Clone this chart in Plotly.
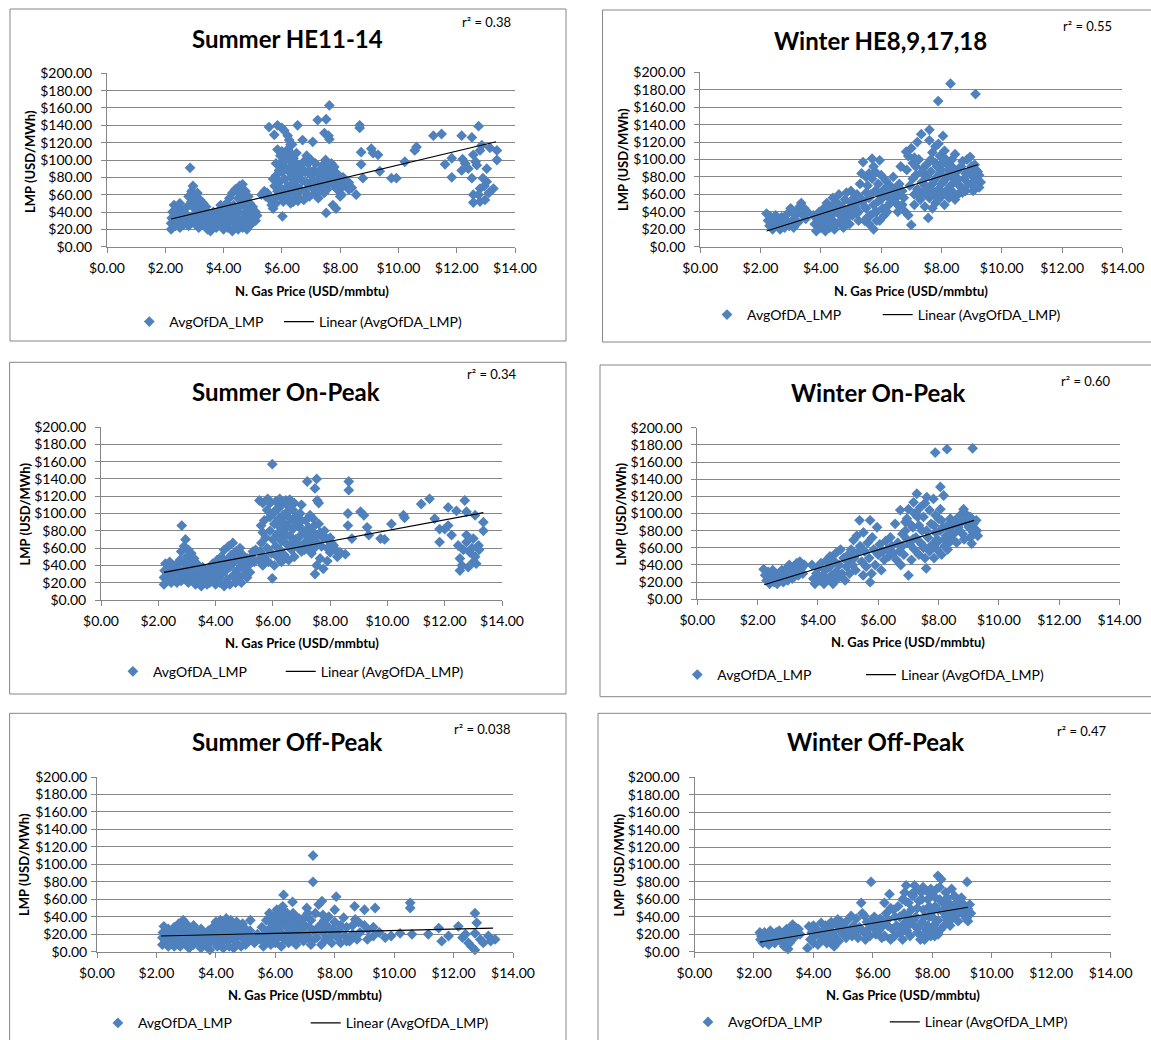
import plotly.graph_objects as go

W, H = 1151, 1040

panel_titles = ["Summer HE11-14", "Winter HE8,9,17,18", "Summer On-Peak",
                "Winter On-Peak", "Summer Off-Peak", "Winter Off-Peak"]
r2_texts = ["r² = 0.38", "r² = 0.55", "r² = 0.34", "r² = 0.60", "r² = 0.038", "r² = 0.47"]
series_name = "AvgOfDA_LMP"
trend_name = "Linear (AvgOfDA_LMP)"
x_title = "N. Gas Price (USD/mmbtu)"
y_title = "LMP (USD/MWh)"
x_tick_vals = [0, 2, 4, 6, 8, 10, 12, 14]
x_tick_text = ["$0.00", "$2.00", "$4.00", "$6.00", "$8.00", "$10.00", "$12.00", "$14.00"]
y_tick_vals = [0, 20, 40, 60, 80, 100, 120, 140, 160, 180, 200]
y_tick_text = ["$0.00", "$20.00", "$40.00", "$60.00", "$80.00", "$100.00", "$120.00",
               "$140.00", "$160.00", "$180.00", "$200.00"]

# trend line end points (x, y)
trend_x = [[2.2, 13.35], [2.2, 9.2], [2.2, 13.35], [2.22, 9.18], [2.15, 13.33], [2.2, 9.2]]
trend_y = [[32, 121], [18, 94], [32, 101], [17, 92], [18, 27], [11, 51]]

summer_he_pts = [
(2.2,20),(2.2,27),(2.22,33),(2.25,40),(2.3,48),(2.35,24),(2.4,30),(2.4,37),(2.45,45),(2.5,50),(2.5,22),(2.55,28),(2.6,35),(2.6,42),(2.65,26),(2.7,32),(2.7,38),(2.75,46),(2.8,58),(2.8,24),(2.85,30),(2.85,91),(2.9,52),(2.9,64),(2.95,70),(2.95,36),(3.0,44),(3.0,58),(3.0,27),(3.05,33),(3.05,50),(3.1,40),(3.1,62),(3.15,22),(3.15,46),(3.2,54),(3.2,30),(3.25,36),(3.3,42),(3.3,50),(3.35,25),(3.4,32),(3.4,46),(3.45,20),(3.5,28),(3.5,38),(3.55,18),(3.6,24),(3.6,34),(3.65,40),(3.7,28),(3.75,22),(3.8,30),(3.8,36),
(3.85,42),(3.9,24),(3.9,48),(3.95,32),(4.0,20),(4.0,38),(4.0,45),(4.05,28),(4.1,50),(4.1,34),(4.15,22),(4.2,42),(4.2,56),(4.25,30),(4.3,18),(4.3,38),(4.3,62),(4.35,48),(4.4,26),(4.4,44),(4.4,66),(4.45,34),(4.5,20),(4.5,56),(4.5,40),(4.55,70),(4.6,30),(4.6,48),(4.6,62),(4.65,22),(4.65,72),(4.7,38),(4.7,54),(4.75,28),(4.75,64),(4.8,44),(4.8,20),(4.85,58),(4.85,34),(4.9,50),(4.9,40),(4.95,26),(5.0,46),(5.0,36),(5.05,32),(5.1,40),(5.1,30),(5.15,36),
(5.3,60),(5.4,64),(5.45,58),(5.5,62),(5.6,54),(5.65,48),(5.7,44),(5.75,56),(5.8,50),
(5.56,138),(5.74,129),(5.85,140),(6.0,137),(6.08,134),(6.2,128),(6.25,123),(6.3,118),(6.54,140),(6.71,123),(7.06,121),(7.23,146),(7.52,147),(7.63,163),(7.46,131),(7.6,128),(7.63,124),
(5.85,112),(5.9,95),(5.95,105),(6.0,110),(6.05,98),(6.1,92),(6.15,105),(6.2,112),(6.25,100),(6.3,108),(6.35,94),(6.4,102),
(5.7,78),(5.75,70),(5.8,82),(5.85,64),(5.9,74),(5.95,58),(6.0,86),(6.0,66),(6.05,52),(6.1,78),(6.15,60),(6.2,70),(6.2,88),(6.25,56),(6.3,80),(6.35,64),(6.4,74),(6.4,52),(6.45,86),(6.5,60),(6.5,70),(6.55,80),(6.6,56),(6.6,92),(6.65,66),(6.7,76),(6.75,98),(6.75,54),(6.8,86),(6.8,64),(6.85,105),(6.9,72),(6.9,96),(6.95,58),(7.0,82),(7.0,100),(7.05,68),(7.1,88),(7.15,62),(7.2,76),(7.25,84),(7.3,70),(7.3,64),(7.35,90),(7.4,78),(7.45,72),(7.5,84),(7.5,100),(7.55,66),(7.6,90),(7.65,80),(7.7,74),(7.75,86),(7.8,70),(7.85,78),(7.9,66),(7.95,74),(8.0,72),(8.05,60),(8.1,70),(8.2,76),(8.3,66),(8.4,68),(8.55,60),(8.0,58),(7.75,48),(7.86,44),(7.52,39),(6.02,35),(6.3,50),(6.55,53),(6.8,56),
(6.1,100),(6.3,88),(6.5,96),(6.7,90),(6.95,88),(7.15,96),(7.4,94),(7.6,74),(7.7,96),(7.9,84),(8.1,80),(8.3,74),(6.45,62),(6.65,84),(6.85,74),(7.05,76),(7.25,56),(7.45,62),(6.1,58),(5.9,88),(5.8,96),(6.35,118),(6.5,108),(7.8,92),
(8.67,140),(8.67,137),(8.72,109),(8.72,95),(8.78,79),(9.07,113),(9.13,108),(9.3,106),(9.36,87),(9.76,79),(9.93,79),(10.22,98),(10.56,111),(10.62,115),(11.2,128),(11.48,130),(11.6,95),(11.83,102),(11.83,80),(12.17,128),(12.52,126),(12.75,139),(12.17,88),(12.29,96),(12.57,106),(12.52,79),(12.57,60),(12.57,51),(12.8,52),(12.97,54),(13.26,67),(13.03,75),(12.8,67),(12.9,79),(12.69,94),(12.8,111),(12.86,117),(13.14,114),(13.38,111),(13.38,100),(13.03,90),(12.75,60),(13.1,62),(12.95,70),(12.2,101),(12.4,90),(12.65,98),
]

winter_he_pts = [
(2.2,38),(2.25,30),(2.3,24),(2.35,34),(2.4,20),(2.45,28),(2.5,36),(2.55,24),(2.6,30),(2.65,20),(2.7,34),(2.75,26),(2.8,22),(2.85,30),(2.9,38),(2.95,24),(3.0,44),(3.05,30),(3.1,22),(3.15,36),(3.2,40),(3.25,28),(3.3,46),(3.35,50),(3.4,36),(3.45,44),(3.5,32),(3.55,40),
(3.75,36),(3.8,26),(3.85,18),(3.9,30),(3.95,40),(4.0,22),(4.05,34),(4.1,44),(4.15,18),(4.2,28),(4.2,50),(4.25,38),(4.3,22),(4.35,46),(4.4,30),(4.4,56),(4.45,20),(4.5,40),(4.55,50),(4.6,28),(4.6,60),(4.65,36),(4.7,46),(4.75,22),(4.8,54),(4.8,32),(4.85,62),(4.9,42),(4.95,26),(5.0,50),(5.0,64),(5.05,36),(5.1,56),(5.15,44),(5.2,60),(5.25,40),(5.3,72),
(4.0,28),(4.3,32),(4.5,26),(4.7,30),(4.9,34),(4.1,24),(4.6,44),(4.4,38),(4.25,44),(4.75,40),(5.1,46),(5.2,50),(5.3,56),(5.25,30),(5.2,38),
(5.35,84),(5.4,97),(5.4,52),(5.45,30),(5.5,62),(5.5,44),(5.55,70),(5.6,26),(5.6,56),(5.65,36),(5.7,78),(5.7,101),(5.75,20),(5.75,48),(5.8,64),(5.8,86),(5.85,40),(5.9,72),(5.95,30),(5.95,99),(6.0,54),(6.0,82),(6.05,44),(6.1,66),(6.1,36),(6.15,76),(6.2,58),(6.25,48),(6.3,70),(6.35,62),(6.4,54),(6.45,66),(6.5,50),(6.55,58),(6.6,46),(6.65,92),(6.7,64),(6.75,56),
(5.45,46),(5.65,60),(5.8,40),(5.9,52),(6.05,62),(5.55,34),(5.85,30),(6.2,40),
(5.6,84),(5.9,62),(6.2,68),(6.4,80),(6.6,72),(6.3,50),(6.55,40),(6.7,48),(5.5,80),(5.75,92),
(6.8,40),(6.83,109),(6.85,88),(6.9,36),(6.95,70),(7.0,113),(7.0,25),(7.05,96),(7.1,60),(7.1,48),(7.15,82),(7.2,120),(7.2,66),(7.25,100),(7.3,54),(7.33,129),(7.35,74),(7.4,62),(7.4,90),(7.45,46),(7.5,80),(7.55,68),(7.56,33),(7.6,134),(7.6,56),(7.65,86),(7.7,44),(7.7,72),(7.75,60),(7.8,115),(7.8,96),(7.8,50),(7.85,80),(7.89,167),(7.9,66),(7.95,104),(8.0,58),(8.0,88),(8.05,127),(8.05,74),(8.1,48),(8.1,110),(8.15,64),(8.2,94),(8.2,82),(8.25,56),(8.3,187),(8.3,70),(8.35,100),(8.4,62),(8.45,106),(8.5,86),(8.5,74),(8.55,60),(8.6,90),(8.65,68),(8.7,98),(8.75,78),(8.8,64),(8.85,100),(8.9,86),(8.95,103),(9.0,72),(9.05,80),(9.1,66),(9.13,175),(9.15,88),(9.2,76),(9.25,82),(9.3,74),
(7.05,78),(7.15,92),(7.25,58),(7.35,86),(7.45,70),(7.5,94),(7.55,58),(7.65,100),(7.7,64),(7.75,76),(7.85,92),(7.9,54),(7.95,84),(8.0,72),(8.05,96),(8.1,62),(8.15,78),(8.25,88),(8.3,62),(8.35,80),(8.4,90),(8.45,54),(8.55,78),(8.6,70),(8.65,92),(8.7,62),(8.8,84),(8.9,72),(9.0,92),(9.05,64),(9.1,94),(9.2,86),(9.25,68),(7.9,118),(8.15,100),(7.7,108),(6.9,104),(7.1,102),(7.6,122),
]

summer_on_pts = [
(2.2,18),(2.2,26),(2.22,34),(2.25,42),(2.3,22),(2.35,30),(2.4,38),(2.4,44),(2.45,20),(2.5,28),(2.5,36),(2.55,24),(2.6,32),(2.6,40),(2.65,20),(2.7,28),(2.7,36),(2.75,46),(2.8,22),(2.8,56),(2.82,86),(2.85,32),(2.9,62),(2.9,42),(2.95,70),(2.95,26),(3.0,50),(3.0,36),(3.05,58),(3.05,20),(3.1,30),(3.1,44),(3.15,54),(3.2,24),(3.2,38),(3.25,48),(3.3,18),(3.3,30),(3.35,42),(3.4,24),(3.45,34),(3.5,16),(3.5,28),(3.55,38),(3.6,22),(3.65,32),(3.7,18),(3.75,26),(3.8,36),(3.8,20),
(3.85,30),(3.9,42),(3.95,24),(4.0,18),(4.0,34),(4.05,46),(4.1,26),(4.1,38),(4.15,20),(4.2,50),(4.2,30),(4.25,42),(4.3,16),(4.3,58),(4.35,34),(4.4,24),(4.4,46),(4.45,62),(4.5,18),(4.5,38),(4.55,52),(4.6,28),(4.6,66),(4.65,44),(4.7,20),(4.7,56),(4.75,34),(4.8,48),(4.8,26),(4.85,60),(4.9,40),(4.9,20),(4.95,52),(5.0,30),(5.0,44),(5.05,36),(5.1,48),(5.1,26),(5.15,40),(5.2,32),(5.25,50),(5.3,56),(5.35,44),(5.4,58),
(5.53,115),(5.65,112),(5.82,117),(5.9,112),(5.98,157),(6.1,114),(6.24,117),(6.3,110),(6.45,115),(6.59,116),(6.75,112),(7.0,110),(7.2,137),(7.47,129),(7.53,140),(7.55,115),(7.6,112),(7.41,94),
(5.5,46),(5.55,56),(5.59,86),(5.6,66),(5.65,40),(5.7,50),(5.75,72),(5.8,60),(5.85,44),(5.9,96),(5.9,80),(5.95,54),(5.98,25),(6.0,70),(6.0,100),(6.05,88),(6.05,40),(6.1,62),(6.15,76),(6.15,50),(6.2,94),(6.2,106),(6.25,84),(6.25,58),(6.3,68),(6.3,44),(6.35,90),(6.4,78),(6.4,52),(6.45,100),(6.5,64),(6.5,86),(6.55,46),(6.6,74),(6.6,94),(6.65,58),(6.7,82),(6.7,104),(6.75,50),(6.8,70),(6.8,96),(6.85,62),(6.9,86),(6.95,74),(7.0,56),(7.0,92),(7.05,80),(7.1,66),(7.15,76),(7.2,60),(7.25,84),(7.3,70),(7.35,64),(7.4,78),(7.45,60),(7.5,74),(7.55,66),(7.65,78),(7.7,62),(7.75,72),(7.88,71),(7.9,60),(8.0,55),(8.05,66),(8.12,63),(8.2,58),(8.35,55),(8.53,53),(7.53,40),(7.47,30),(7.76,36),(7.65,48),(8.25,50),(7.9,45),
(6.1,104),(6.35,98),(6.55,108),(6.75,90),(6.95,100),(7.15,92),(7.3,98),(7.45,86),(7.6,88),(7.8,80),(8.0,72),(6.25,72),(6.45,74),(6.65,66),(6.9,64),(7.1,58),(7.35,54),(5.8,104),(5.7,92),(5.65,78),
(8.65,137),(8.65,127),(8.62,100),(8.62,86),(8.76,71),(9.06,102),(9.18,98),(9.29,84),(9.35,75),(9.76,71),(9.9,70),(10.14,88),(10.56,98),(10.6,95),(11.18,111),(11.47,117),(11.65,94),(11.82,82),(11.82,67),(12.12,107),(12.41,103),(12.7,115),(12.76,102),(13.06,98),(13.35,90),(13.35,80),(12.12,86),(12.0,82),(12.24,75),(12.47,63),(12.53,48),(12.76,67),(12.88,55),(13.0,44),(12.53,34),(12.82,38),(13.06,50),(13.18,63),(13.0,71),(12.76,75),(12.65,58),(12.95,60),(13.2,58),(12.6,40),(13.1,42),
]

winter_on_pts = [
(2.2,35),(2.25,28),(2.3,22),(2.35,32),(2.4,18),(2.45,26),(2.5,34),(2.55,20),(2.6,28),(2.65,18),(2.7,30),(2.75,24),(2.8,34),(2.85,20),(2.9,28),(2.95,36),(3.0,22),(3.05,40),(3.1,30),(3.15,24),(3.2,38),(3.25,32),(3.3,42),(3.35,28),(3.4,44),(3.45,36),(3.5,30),(3.55,40),
(3.8,40),(3.85,24),(3.9,18),(3.95,30),(4.0,36),(4.05,22),(4.1,42),(4.15,28),(4.2,18),(4.25,34),(4.3,46),(4.35,24),(4.4,50),(4.4,38),(4.45,28),(4.5,18),(4.55,44),(4.6,32),(4.6,54),(4.65,24),(4.7,40),(4.75,58),(4.8,30),(4.85,48),(4.9,22),(4.95,38),(5.0,52),(5.0,44),(5.05,30),(5.1,58),(5.15,40),(5.2,48),(5.25,34),(5.3,54),
(5.29,74),(5.18,69),(5.38,92),(5.4,62),(5.45,44),(5.5,28),(5.51,78),(5.55,56),(5.6,38),(5.65,66),(5.7,48),(5.73,92),(5.73,20),(5.78,30),(5.8,72),(5.85,58),(5.9,40),(5.96,84),(6.0,52),(6.05,64),(6.1,34),(6.15,56),(6.2,46),(6.25,68),(6.3,58),(6.35,50),(6.4,72),(6.45,62),(6.5,54),(6.56,88),(6.6,46),(6.65,66),(6.7,56),(6.73,104),(6.75,40),(6.8,76),
(6.85,52),(6.9,90),(6.95,94),(7.0,105),(7.0,28),(7.05,64),(7.1,46),(7.15,84),(7.17,113),(7.2,58),(7.25,72),(7.28,123),(7.3,96),(7.35,52),(7.39,107),(7.4,66),(7.45,80),(7.5,60),(7.55,48),(7.59,36),(7.61,119),(7.65,72),(7.7,56),(7.75,88),(7.8,64),(7.83,117),(7.85,48),(7.89,171),(7.9,78),(7.95,58),(8.0,94),(8.0,68),(8.06,131),(8.06,105),(8.1,52),(8.15,84),(8.17,121),(8.2,62),(8.25,74),(8.28,175),(8.3,58),(8.39,94),(8.45,70),(8.5,88),(8.6,66),(8.7,80),(8.72,98),(8.8,76),(8.83,105),(8.9,92),(8.94,98),(9.0,84),(9.05,72),(9.1,65),(9.13,176),(9.16,88),(9.2,80),(9.27,80),(9.3,74),
(7.05,88),(7.15,70),(7.25,100),(7.35,86),(7.45,64),(7.5,96),(7.6,80),(7.7,104),(7.75,62),(7.85,86),(7.9,98),(7.95,70),(8.05,80),(8.1,92),(8.2,70),(8.3,86),(8.35,66),(8.4,80),(8.5,76),(8.55,92),(8.65,84),(8.75,90),(8.85,70),(8.95,88),(9.05,96),(9.15,78),(9.25,92),(7.2,100),(7.55,112),(6.9,80),(6.8,62),(6.95,70),
]

summer_off_pts = [
(2.2,8),(2.2,16),(2.22,22),(2.25,29),(2.3,12),(2.35,20),(2.4,6),(2.4,26),(2.45,14),(2.5,10),(2.5,22),(2.55,18),(2.6,6),(2.6,28),(2.65,14),(2.7,10),(2.7,22),(2.75,32),(2.8,16),(2.8,6),(2.85,26),(2.9,36),(2.9,12),(2.95,20),(3.0,32),(3.0,8),(3.05,16),(3.1,26),(3.1,4),(3.15,12),(3.2,22),(3.25,30),(3.25,8),(3.3,16),(3.35,24),(3.4,10),(3.45,18),(3.5,4),(3.5,26),(3.55,14),(3.6,20),(3.65,8),(3.7,16),(3.75,24),(3.8,10),(3.8,2),
(3.85,18),(3.9,28),(3.95,12),(4.0,34),(4.0,22),(4.05,6),(4.1,16),(4.1,30),(4.15,36),(4.2,10),(4.2,24),(4.25,4),(4.3,18),(4.3,32),(4.35,38),(4.4,12),(4.4,26),(4.45,6),(4.5,20),(4.5,36),(4.55,30),(4.6,14),(4.6,4),(4.65,24),(4.7,34),(4.7,10),(4.75,18),(4.8,28),(4.85,6),(4.9,22),(4.9,32),(4.95,14),(5.0,26),(5.0,8),(5.05,18),(5.1,12),(5.15,24),(5.16,36),(5.2,16),(5.3,10),(5.4,20),(5.5,14),(5.55,28),(5.6,6),
(5.65,20),(5.7,36),(5.75,12),(5.8,26),(5.8,44),(5.85,8),(5.9,32),(5.9,18),(5.95,40),(6.0,24),(6.0,10),(6.05,48),(6.05,34),(6.1,16),(6.1,28),(6.15,42),(6.2,6),(6.2,22),(6.25,52),(6.28,65),(6.3,36),(6.3,14),(6.35,30),(6.4,20),(6.4,44),(6.45,10),(6.5,26),(6.5,36),(6.55,16),(6.58,57),(6.6,32),(6.65,22),(6.7,8),(6.7,40),(6.75,28),(6.8,16),(6.85,34),(6.9,24),(6.95,12),(7.0,30),(7.0,40),(7.06,50),(7.1,18),(7.15,28),(7.2,36),(7.25,12),(7.27,110),(7.27,80),(7.3,24),(7.35,44),(7.4,16),(7.46,54),(7.5,30),(7.55,8),(7.57,58),(7.6,22),(7.65,36),(7.7,14),(7.75,28),(7.8,40),(7.85,18),(7.9,10),(7.95,26),(8.0,48),(8.0,34),(8.05,63),(8.1,16),(8.15,24),(8.2,10),(8.3,39),(8.35,18),(8.4,28),(8.5,12),(8.6,20),(8.67,52),(8.69,37),(8.75,14),(8.85,22),(9.0,48),(9.0,30),(9.13,25),(9.3,18),(9.36,50),(9.3,28),(9.7,16),(9.9,18),(10.2,21),(10.54,56),(10.54,50),(10.6,20),(11.15,20),(11.5,27),(11.6,12),(11.83,18),(12.16,29),(12.3,16),(12.5,10),(12.6,6),(12.72,44),(12.72,2),(12.78,33),(12.72,21),(12.9,14),(13.0,10),(13.17,18),(13.4,14),(13.25,12),(12.4,20),
(5.8,14),(6.0,38),(6.2,30),(6.4,28),(6.6,12),(6.8,38),(7.0,20),(7.2,8),(7.4,26),(7.6,42),(7.8,28),(8.0,20),(8.2,30),(8.4,12),(8.6,30),(8.8,34),(9.1,14),(9.5,22),(7.1,44),(6.6,44),(6.3,46),
]

winter_off_pts = [
(2.2,22),(2.22,14),(2.25,18),(2.3,10),(2.35,22),(2.4,16),(2.45,12),(2.5,20),(2.5,8),(2.55,24),(2.6,14),(2.65,18),(2.7,10),(2.75,22),(2.8,16),(2.85,24),(2.9,12),(2.95,18),(3.0,22),(3.02,6),(3.05,14),(3.1,26),(3.15,3),(3.15,18),(3.2,10),(3.25,22),(3.3,31),(3.35,16),(3.4,28),(3.45,22),(3.5,26),(3.55,20),
(3.8,4),(3.85,29),(3.9,14),(3.95,22),(4.0,10),(4.0,30),(4.05,18),(4.1,26),(4.15,8),(4.2,20),(4.26,33),(4.3,14),(4.35,24),(4.4,30),(4.45,10),(4.5,18),(4.55,28),(4.6,10),(4.6,34),(4.65,22),(4.7,6),(4.75,16),(4.8,30),(4.82,37),(4.85,12),(4.9,24),(4.95,34),(5.0,20),(5.05,28),(5.1,16),(5.15,36),(5.2,24),(5.27,41),(5.3,18),
(5.35,30),(5.4,22),(5.45,38),(5.5,16),(5.55,28),(5.61,56),(5.65,44),(5.7,22),(5.72,41),(5.75,14),(5.8,34),(5.85,26),(5.94,80),(5.9,18),(5.95,36),(6.0,28),(6.05,40),(6.1,20),(6.15,32),(6.2,24),(6.25,38),(6.3,16),(6.35,30),(6.39,56),(6.45,44),(6.51,37),(6.56,66),(6.6,50),(6.6,14),(6.65,26),(6.73,18),(6.75,40),(6.8,30),(6.85,52),(6.9,22),(6.96,29),(7.0,60),(7.0,14),
(7.05,44),(7.07,68),(7.1,34),(7.12,76),(7.15,24),(7.18,41),(7.2,56),(7.25,18),(7.3,48),(7.35,64),(7.4,76),(7.4,30),(7.45,40),(7.5,22),(7.55,58),(7.6,14),(7.63,68),(7.65,34),(7.69,74),(7.7,48),(7.74,14),(7.8,26),(7.85,60),(7.9,40),(7.95,18),(7.97,45),(8.0,66),(8.05,30),(8.08,18),(8.1,52),(8.15,72),(8.19,87),(8.2,36),(8.25,60),(8.3,83),(8.3,26),(8.35,46),(8.42,49),(8.45,68),(8.5,36),(8.55,56),(8.6,30),(8.64,37),(8.7,50),(8.75,64),(8.8,42),(8.87,35),(8.87,52),(8.9,58),(8.98,62),(9.0,44),(9.09,45),(9.15,38),(9.17,80),(9.2,49),(9.2,35),(9.26,54),(9.3,44),
(7.1,58),(7.2,30),(7.3,66),(7.35,36),(7.45,70),(7.5,50),(7.55,28),(7.65,60),(7.75,40),(7.8,70),(7.85,30),(7.9,52),(7.95,72),(8.0,40),(8.1,62),(8.1,26),(8.2,48),(8.25,74),(8.35,56),(8.4,30),(8.45,40),(8.5,62),(8.6,46),(8.65,72),(8.7,40),(8.8,56),(8.9,48),(9.0,56),(9.1,52),(8.0,22),(8.2,20),(7.7,20),(6.4,18),(6.5,30),(6.7,48),(6.9,40),(7.0,24),
]

panel_points = [summer_he_pts, winter_he_pts, summer_on_pts, winter_on_pts, summer_off_pts, winter_off_pts]

# ---------------- layout geometry (pixels) ----------------
geo = [
    dict(px0=107, px1=515, pyt=73.3, pyb=246.7, box=(10, 9, 566, 341), title=(287, 38.3),
         r2=(486.6, 21.7), ytitle=(30, 161), xtitle=(312, 290.7), leg=(129.3, 322), ew=104.7, ylstand=6),
    dict(px0=700.2, px1=1122.4, pyt=72.3, pyb=246.7, box=(602.5, 10, 1160, 342), title=(880, 40.7),
         r2=(1087.7, 26), ytitle=(623, 160), xtitle=(911, 290.7), leg=(707, 315), ew=125.7, ylstand=6),
    dict(px0=101, px1=502, pyt=427, pyb=600, box=(9.6, 362.3, 566, 694), title=(286, 391),
         r2=(491.4, 374.3), ytitle=(24.5, 514), xtitle=(302, 643), leg=(112.9, 671.7), ew=122.8, ylstand=6),
    dict(px0=697.3, px1=1119.5, pyt=427.7, pyb=599.3, box=(600, 365, 1160, 696.7), title=(877.5, 392.3),
         r2=(1085.5, 381), ytitle=(620.5, 514), xtitle=(908, 642), leg=(677.3, 675), ew=138.7, ylstand=6),
    dict(px0=97, px1=513, pyt=777, pyb=951.7, box=(9.6, 713.3, 566, 1050), title=(286.6, 741),
         r2=(482, 729), ytitle=(24, 865), xtitle=(305, 995), leg=(97.9, 1023.3), ew=162.8, ylstand=1),
    dict(px0=694.5, px1=1110.6, pyt=777.3, pyb=951.7, box=(598, 713.3, 1160, 1050), title=(875, 741),
         r2=(1081, 731), ytitle=(618.5, 865), xtitle=(902.5, 995), leg=(688, 1022.3), ew=151.8, ylstand=6),
]

FONT = "Lato"
BLUE = "#4F81BD"
GRID = "#868686"


def fx(px):
    return px / W


def fy(py):
    return 1 - py / H


fig = go.Figure()
layout = dict(width=W, height=H, margin=dict(l=0, r=0, t=0, b=0, pad=0, autoexpand=False),
              paper_bgcolor="white", plot_bgcolor="white", showlegend=True,
              font=dict(family=FONT, color="black"))
shapes = []
annotations = []

for i, g in enumerate(geo):
    n = i + 1
    xa = "x" if n == 1 else f"x{n}"
    ya = "y" if n == 1 else f"y{n}"
    leg = "legend" if n == 1 else f"legend{n}"
    pts = panel_points[i]
    xs = [p[0] for p in pts]
    ys = [p[1] for p in pts]
    fig.add_trace(go.Scatter(x=xs, y=ys, mode="markers", name=series_name,
                             marker=dict(symbol="diamond", size=8.3, color=BLUE, line=dict(width=0)),
                             xaxis=xa, yaxis=ya, legend=leg, legendwidth=g["ew"], cliponaxis=False))
    fig.add_trace(go.Scatter(x=trend_x[i], y=trend_y[i], mode="lines", name=trend_name,
                             line=dict(color="black", width=1.2),
                             xaxis=xa, yaxis=ya, legend=leg, legendwidth=170))

    xkey = "xaxis" if n == 1 else f"xaxis{n}"
    ykey = "yaxis" if n == 1 else f"yaxis{n}"
    layout[xkey] = dict(domain=[fx(g["px0"]), fx(g["px1"])], anchor=ya, range=[0, 14],
                        tickmode="array", tickvals=x_tick_vals, ticktext=x_tick_text,
                        showgrid=False, zeroline=False, showline=True, linecolor=GRID, linewidth=1,
                        ticks="outside", ticklen=5, tickcolor=GRID, tickwidth=1, ticklabelstandoff=3,
                        tickfont=dict(family=FONT, size=14, color="black"), fixedrange=True)
    layout[ykey] = dict(domain=[fy(g["pyb"]), fy(g["pyt"])], anchor=xa, range=[0, 200],
                        tickmode="array", tickvals=y_tick_vals, ticktext=y_tick_text,
                        showgrid=True, gridcolor=GRID, gridwidth=1, zeroline=False,
                        showline=True, linecolor=GRID, linewidth=1,
                        ticks="outside", ticklen=5, tickcolor=GRID, tickwidth=1,
                        ticklabelstandoff=g["ylstand"],
                        tickfont=dict(family=FONT, size=14, color="black"), fixedrange=True)
    layout[leg] = dict(x=fx(g["leg"][0]), y=fy(g["leg"][1]), xanchor="left", yanchor="middle",
                       orientation="h", font=dict(family=FONT, size=14, color="black"),
                       bgcolor="rgba(0,0,0,0)", borderwidth=0, itemwidth=30)

    bx0, by0, bx1, by1 = g["box"]
    shapes.append(dict(type="rect", xref="paper", yref="paper",
                       x0=fx(bx0), x1=fx(bx1), y0=fy(by1), y1=fy(by0),
                       line=dict(color=GRID, width=1), fillcolor="rgba(0,0,0,0)"))
    annotations.append(dict(text=f"<b>{panel_titles[i]}</b>", x=fx(g["title"][0]), y=fy(g["title"][1]),
                            xref="paper", yref="paper", showarrow=False, xanchor="center", yanchor="middle",
                            font=dict(family=FONT, size=24, color="black")))
    annotations.append(dict(text=r2_texts[i], x=fx(g["r2"][0]), y=fy(g["r2"][1]),
                            xref="paper", yref="paper", showarrow=False, xanchor="center", yanchor="middle",
                            font=dict(family=FONT, size=13, color="black")))
    annotations.append(dict(text=f"<b>{x_title}</b>", x=fx(g["xtitle"][0]), y=fy(g["xtitle"][1]),
                            xref="paper", yref="paper", showarrow=False, xanchor="center", yanchor="middle",
                            font=dict(family=FONT, size=13, color="black")))
    annotations.append(dict(text=f"<b>{y_title}</b>", x=fx(g["ytitle"][0]), y=fy(g["ytitle"][1]),
                            xref="paper", yref="paper", showarrow=False, xanchor="center", yanchor="middle",
                            textangle=-90, font=dict(family=FONT, size=13, color="black")))

layout["shapes"] = shapes
layout["annotations"] = annotations
fig.update_layout(**layout)
fig.write_html("out.html", config={"displayModeBar": False},
               post_script="document.body.style.margin='0';document.body.style.overflow='hidden';")
